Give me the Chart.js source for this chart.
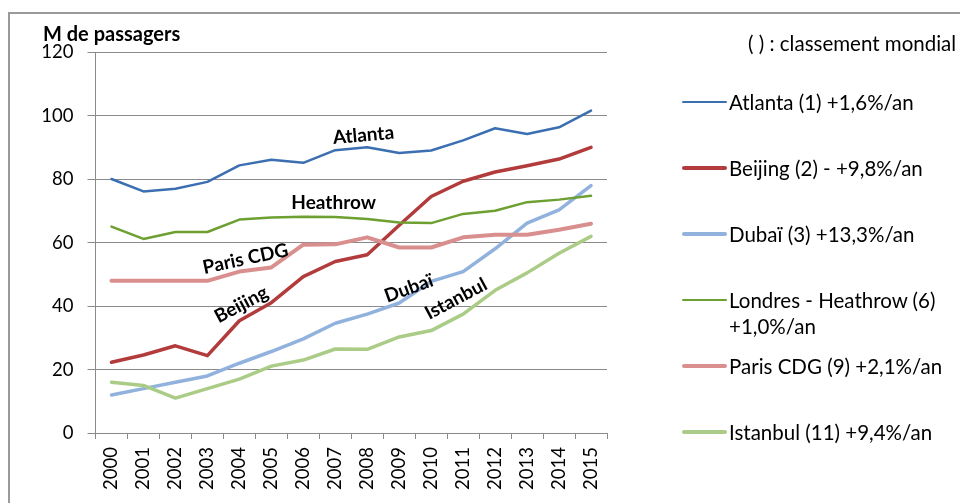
<!DOCTYPE html>
<html>
<head>
<meta charset="utf-8">
<script src="https://cdn.jsdelivr.net/npm/chart.js@4/dist/chart.umd.min.js"></script>
<style>
  html, body { margin: 0; padding: 0; background: #fff; }
  #wrap { position: relative; width: 960px; height: 503px; overflow: hidden; font-family: Lato, "Open Sans", sans-serif; color: #000; }
  #frame { position: absolute; left: 8px; top: 12px; width: 1000px; height: 600px; border-left: 2px solid #9a9a9a; border-top: 2px solid #9a9a9a; }
  #c { position: absolute; left: 0; top: 0; }
  #ytitle { position: absolute; left: 43px; top: 21px; font-weight: bold; font-size: 20px; line-height: 24px; white-space: nowrap; }
  #legend { position: absolute; left: 0; top: 0; width: 960px; height: 503px; }
  .lg-head { position: absolute; left: 748px; top: 30px; font-size: 20.5px; line-height: 26px; white-space: nowrap; }
  .lg-item { position: absolute; left: 682px; font-size: 20.5px; line-height: 26px; }
  .lg-line { position: absolute; left: 0; width: 45px; border-radius: 2px; }
  .lg-text { position: absolute; left: 47px; top: 0; white-space: nowrap; }
</style>
</head>
<body>
<div id="wrap">
  <div id="frame"></div>
  <canvas id="c" width="960" height="503"></canvas>
  <div id="ytitle"></div>
  <div id="legend"></div>
</div>
<script>
// ---- data ----
const years = ["2000","2001","2002","2003","2004","2005","2006","2007","2008","2009","2010","2011","2012","2013","2014","2015"];
const atlanta  = [80.1, 76.2, 77.0, 79.2, 84.4, 86.2, 85.2, 89.2, 90.1, 88.3, 89.1, 92.3, 96.1, 94.3, 96.4, 101.7];
const beijing  = [22.3, 24.6, 27.5, 24.4, 35.4, 41.1, 49.3, 54.1, 56.2, 65.5, 74.6, 79.4, 82.3, 84.3, 86.4, 90.1];
const dubai    = [12.0, 14.0, 16.0, 18.0, 22.0, 25.7, 29.7, 34.6, 37.5, 41.0, 47.8, 50.9, 58.1, 66.2, 70.4, 78.0];
const heathrow = [65.1, 61.2, 63.4, 63.4, 67.3, 68.0, 68.2, 68.1, 67.5, 66.4, 66.2, 69.1, 70.1, 72.8, 73.6, 74.8];
const paris    = [48.0, 48.0, 48.0, 48.0, 50.9, 52.2, 59.4, 59.5, 61.7, 58.5, 58.5, 61.7, 62.5, 62.5, 64.1, 66.0];
const istanbul = [16.0, 15.0, 11.0, 14.0, 17.0, 21.1, 23.0, 26.5, 26.4, 30.3, 32.3, 37.5, 45.0, 50.5, 56.7, 62.0];

const seriesNames = [
  ["Atlanta (1) +1,6%/an"],
  ["Beijing (2) - +9,8%/an"],
  ["Dubaï (3) +13,3%/an"],
  ["Londres - Heathrow (6)", "+1,0%/an"],
  ["Paris CDG (9) +2,1%/an"],
  ["Istanbul (11) +9,4%/an"]
];
const seriesValues = [atlanta, beijing, dubai, heathrow, paris, istanbul];
const seriesColors = ["#3b6fb1", "#b23b3b", "#91b2dd", "#6d9f31", "#da8f8f", "#abcc86"];
const seriesWidths = [2.5, 3.5, 3.5, 2.5, 4, 3.5];

const yTicks = [0, 20, 40, 60, 80, 100, 120];
const yTitle = "M de passagers";
const legendHeader = "( ) : classement mondial";

// inline labels anchored in data space (category index, value, angle in degrees)
const inlineLabels = ["Atlanta", "Heathrow", "Paris CDG", "Beijing", "Dubaï", "Istanbul"];
const inlineIdx    = [7.88, 6.95, 4.19, 4.06, 9.3, 10.78];
const inlineVal    = [93.9, 72.6, 54.9, 40.5, 45.6, 42.3];
const inlineAngle  = [-5, 0, -12, -28, -20, -28];

// ---- title & legend (HTML text) ----
document.getElementById('ytitle').textContent = yTitle;
const lg = document.getElementById('legend');
const head = document.createElement('div');
head.className = 'lg-head';
head.textContent = legendHeader;
lg.appendChild(head);
seriesNames.forEach((lines, i) => {
  const item = document.createElement('div');
  item.className = 'lg-item';
  item.style.top = (102 + 66 * i - 13) + 'px';
  const ln = document.createElement('div');
  ln.className = 'lg-line';
  ln.style.background = seriesColors[i];
  ln.style.height = seriesWidths[i] + 'px';
  ln.style.top = (13 - seriesWidths[i] / 2) + 'px';
  item.appendChild(ln);
  const tx = document.createElement('div');
  tx.className = 'lg-text';
  tx.innerHTML = lines.map(s => s.replace(/&/g,'&amp;').replace(/</g,'&lt;')).join('<br>');
  item.appendChild(tx);
  lg.appendChild(item);
});

// ---- chart ----
const inlineLabelPlugin = {
  id: 'inlineLabels',
  afterDatasetsDraw(chart) {
    const ctx = chart.ctx;
    const xs = chart.scales.x, ys = chart.scales.y;
    ctx.save();
    ctx.font = 'bold 19px Lato, "Open Sans", sans-serif';
    ctx.fillStyle = '#000';
    ctx.textAlign = 'center';
    ctx.textBaseline = 'middle';
    inlineLabels.forEach((t, i) => {
      const x = xs.getPixelForValue(inlineIdx[i]);
      const y = ys.getPixelForValue(inlineVal[i]);
      ctx.save();
      ctx.translate(x, y);
      ctx.rotate(inlineAngle[i] * Math.PI / 180);
      ctx.fillText(t, 0, 0);
      ctx.restore();
    });
    ctx.restore();
  }
};

const tickFont = { family: 'Lato, "Open Sans", sans-serif', size: 18.5 };

new Chart(document.getElementById('c'), {
  type: 'line',
  data: {
    labels: years,
    datasets: seriesValues.map((v, i) => ({
      label: seriesNames[i].join(' '),
      data: v,
      borderColor: seriesColors[i],
      backgroundColor: seriesColors[i],
      borderWidth: seriesWidths[i],
      pointRadius: 0,
      tension: 0,
      fill: false,
      borderCapStyle: 'round',
      borderJoinStyle: 'round'
    })).reverse()
  },
  options: {
    responsive: false,
    animation: false,
    devicePixelRatio: 1,
    layout: { padding: { left: 0, right: 353, top: 52.5, bottom: 0 } },
    plugins: { legend: { display: false }, tooltip: { enabled: false }, title: { display: false } },
    scales: {
      x: {
        type: 'category',
        offset: true,
        grid: { display: true, drawOnChartArea: false, drawTicks: true, tickLength: 6, color: '#8a8a8a', offset: true },
        border: { display: true, color: '#8a8a8a', width: 1 },
        ticks: { minRotation: 90, maxRotation: 90, padding: 8, color: '#000', font: tickFont, autoSkip: false },
        afterFit: s => { s.height = 70; }
      },
      y: {
        min: 0, max: 120,
        afterBuildTicks: s => { s.ticks = yTicks.map(v => ({ value: v })); },
        grid: { color: '#8a8a8a', tickLength: 8, lineWidth: 1 },
        border: { display: true, color: '#8a8a8a', width: 1 },
        ticks: { padding: 14, color: '#000', font: tickFont },
        afterFit: s => { s.width = 95.5; }
      }
    }
  },
  plugins: [inlineLabelPlugin]
});
</script>
</body>
</html>
